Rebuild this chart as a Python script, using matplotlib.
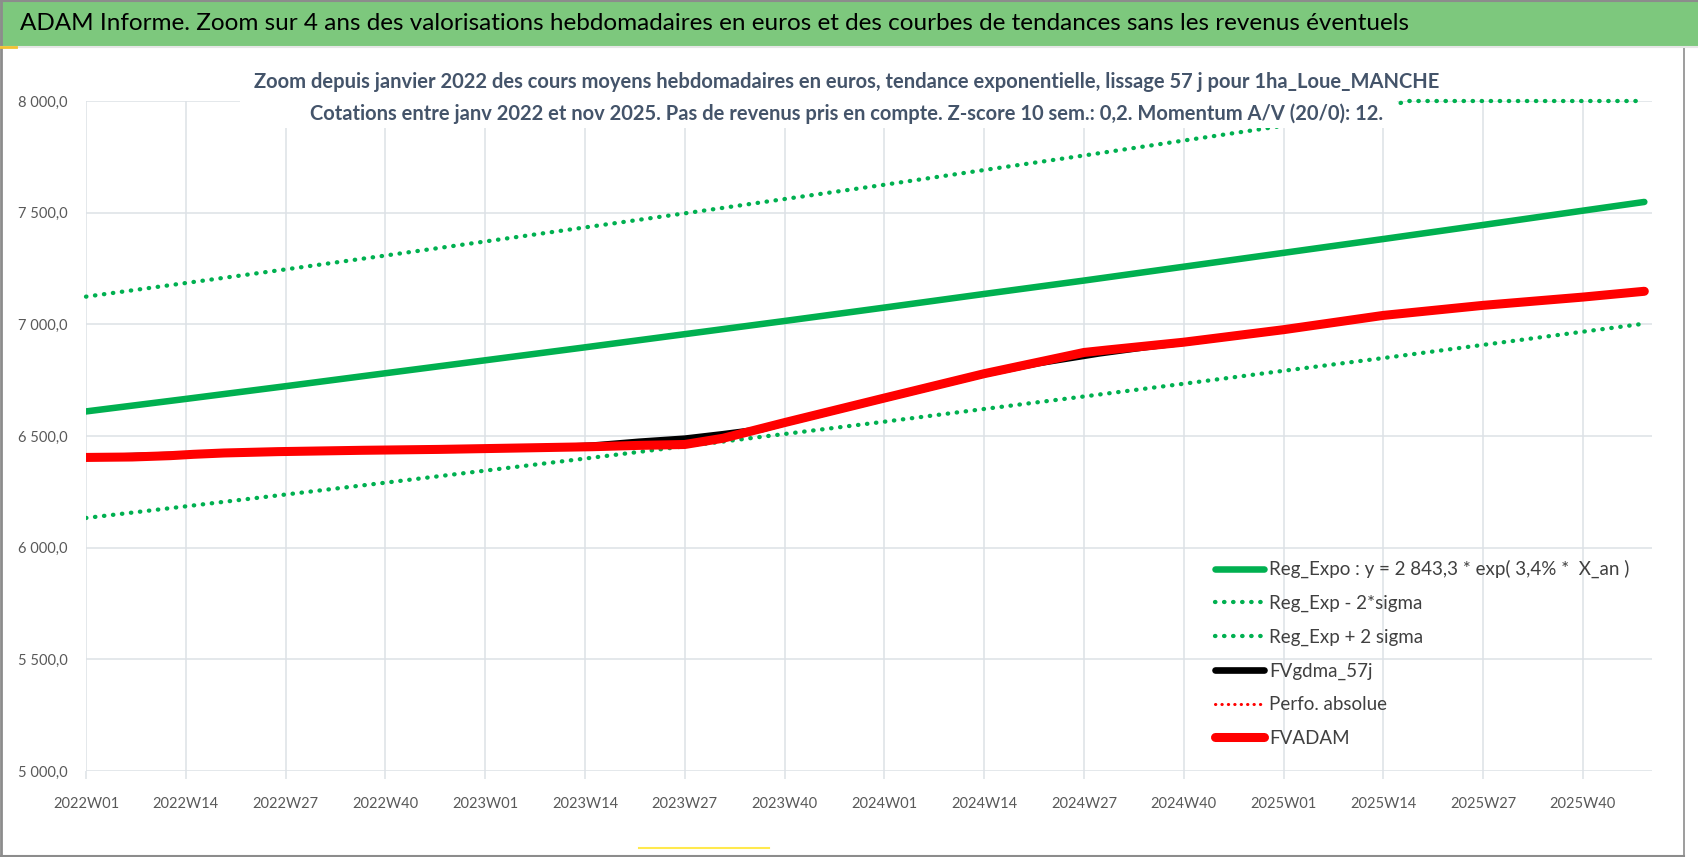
import matplotlib
matplotlib.use("Agg")
import matplotlib.pyplot as plt
from matplotlib.patches import Rectangle
from matplotlib.lines import Line2D
from matplotlib.ticker import FuncFormatter

plt.rcParams['font.family'] = ['Lato', 'DejaVu Sans']

# week index 0 = 2022W01, one point per week up to 2025W48 (index 203)
tick_weeks = [0, 13, 26, 39, 52, 65, 78, 91, 104, 117, 130, 143, 156, 169, 182, 195]
tick_labels = ["2022W01", "2022W14", "2022W27", "2022W40", "2023W01", "2023W14",
               "2023W27", "2023W40", "2024W01", "2024W14", "2024W27", "2024W40",
               "2025W01", "2025W14", "2025W27", "2025W40"]

trend_weeks = [0, 13, 26, 39, 52, 65, 78, 91, 104, 117, 130, 143, 156, 169, 182, 195, 203]
reg_expo = [6610, 6666, 6723, 6781, 6839, 6897, 6956, 7015, 7075, 7136, 7196,
            7258, 7320, 7382, 7445, 7509, 7548]
reg_minus = [6133, 6185, 6238, 6291, 6345, 6399, 6454, 6509, 6564, 6621, 6677,
             6734, 6792, 6849, 6908, 6967, 7003]

upper_weeks = [0, 13, 26, 39, 52, 65, 78, 91, 104, 117, 130, 143, 156, 169, 172, 182, 195, 203]
reg_plus = [7124, 7185, 7246, 7308, 7371, 7434, 7497, 7561, 7625, 7691, 7756,
            7823, 7889, 7965, 8000, 8000, 8000, 8000]

red_weeks = [0, 6, 11, 14, 18, 25, 36, 46, 56, 66, 72, 78, 83, 91, 104, 117, 130,
             133, 143, 156, 169, 182, 195, 203]
fvadam = [6404, 6406, 6412, 6418, 6424, 6430, 6436, 6440, 6446, 6452, 6458, 6462,
          6490, 6560, 6670, 6779, 6874, 6885, 6920, 6976, 7040, 7085, 7122, 7148]
perfo = fvadam

black_weeks = [0, 14, 25, 36, 46, 56, 62, 66, 72, 78, 83, 88, 91, 104, 117, 124,
               128, 132, 138, 143, 156, 169, 182, 195, 203]
fvgdma = [6404, 6418, 6430, 6436, 6440, 6446, 6451, 6457, 6474, 6488, 6508, 6530,
          6558, 6668, 6777, 6826, 6848, 6870, 6898, 6918, 6975, 7039, 7084, 7121, 7147]

W, H = 1698, 857
fig = plt.figure(figsize=(W / 100, H / 100), dpi=100)

ax = fig.add_axes([86 / W, 1 - 771 / H, (1652 - 86) / W, (771 - 101) / H])
green = '#00B050'
dots = (0, (0.1, 2.0))

ax.plot(trend_weeks, reg_expo, color=green, lw=4.7, solid_capstyle='round',
        label="Reg_Expo : y = 2 843,3 * exp( 3,4% *  X_an )", zorder=3)
ax.plot(trend_weeks, reg_minus, color=green, lw=3.1, linestyle=dots,
        dash_capstyle='round', label="Reg_Exp - 2*sigma", zorder=3)
ax.plot(upper_weeks, reg_plus, color=green, lw=3.1, linestyle=dots,
        dash_capstyle='round', label="Reg_Exp + 2 sigma", zorder=3, clip_on=False)
ax.plot(black_weeks, fvgdma, color='black', lw=4.8, solid_capstyle='round',
        label="FVgdma_57j", zorder=4)
ax.plot(red_weeks, perfo, color='red', lw=2.2, linestyle=dots,
        dash_capstyle='round', label="Perfo. absolue", zorder=4)
ax.plot(red_weeks, fvadam, color='red', lw=6.5, solid_capstyle='round',
        label="FVADAM", zorder=5)

ax.set_xlim(0, 204)
ax.set_ylim(5000, 8000)
ax.set_yticks([5000, 5500, 6000, 6500, 7000, 7500, 8000])
ax.yaxis.set_major_formatter(FuncFormatter(
    lambda v, p: f"{int(v) // 1000} {int(v) % 1000:03d},0"))
ax.set_xticks(tick_weeks)
ax.set_xticklabels(tick_labels)
ax.grid(True, color='#DDE1E6', lw=1.1)
ax.set_axisbelow(True)
for s in ax.spines.values():
    s.set_visible(False)
ax.tick_params(axis='y', length=0, pad=13, labelsize=10.5, labelcolor='#595959')
ax.tick_params(axis='x', length=6, color='#DDE1E6', width=1.1, pad=13,
               labelsize=10.5, labelcolor='#595959')

leg = ax.legend(loc='upper left', bbox_to_anchor=(1215 / W, 1 - 560 / H),
                bbox_transform=fig.transFigure, frameon=False, fontsize=13.5,
                handlelength=2.6, handletextpad=0.3, labelspacing=0.88,
                borderpad=0, borderaxespad=0)
for t in leg.get_texts():
    t.set_color('#404040')

# title bar
fig.patches.append(Rectangle((0, 1 - 45.5 / H), 1, 43.5 / H, transform=fig.transFigure,
                             facecolor='#7DC87D', edgecolor='none', zorder=1))
fig.text(19.5 / W, 1 - 24 / H,
         "ADAM Informe. Zoom sur 4 ans des valorisations hebdomadaires en euros et des "
         "courbes de tendances sans les revenus éventuels",
         fontsize=17.5, color='black', va='center', ha='left')

# subtitle with white box over the plot
fig.patches.append(Rectangle((240 / W, 1 - 128 / H), (1397 - 240) / W, 68 / H,
                             transform=fig.transFigure, facecolor='white',
                             edgecolor='none', zorder=1))
sub_color = '#44546A'
fig.text(847 / W, 1 - 82 / H,
         "Zoom depuis janvier 2022 des cours moyens hebdomadaires en euros, tendance "
         "exponentielle, lissage 57 j pour 1ha_Loue_MANCHE",
         fontsize=14.5, fontweight='bold', color=sub_color, ha='center', va='center')
fig.text(847 / W, 1 - 114 / H,
         "Cotations entre janv 2022 et nov 2025. Pas de revenus pris en compte. "
         "Z-score 10 sem.: 0,2. Momentum A/V (20/0): 12.",
         fontsize=14.5, fontweight='bold', color=sub_color, ha='center', va='center')

# outer frame
grey = '#8C8C8C'
fig.add_artist(Line2D([0, 1], [1 - 1 / H, 1 - 1 / H], color=grey, lw=1.5))
fig.add_artist(Line2D([1 / W, 1 / W], [0, 1], color=grey, lw=2))
fig.add_artist(Line2D([1684 / W, 1684 / W], [1 - 47 / H, 0], color=grey, lw=1.2))
fig.add_artist(Line2D([0, 1684 / W], [1 / H, 1 / H], color=grey, lw=1.5))
fig.add_artist(Line2D([0, 1], [1 - 47 / H, 1 - 47 / H], color='#E6E6E6', lw=1.5))
fig.add_artist(Line2D([639 / W, 769 / W], [1 - 848 / H, 1 - 848 / H], color='#FFE94D', lw=1.5))
fig.add_artist(Line2D([0, 16 / W], [1 - 47 / H, 1 - 47 / H], color='#F2C230', lw=2))

fig.savefig("out.png", dpi=100)
